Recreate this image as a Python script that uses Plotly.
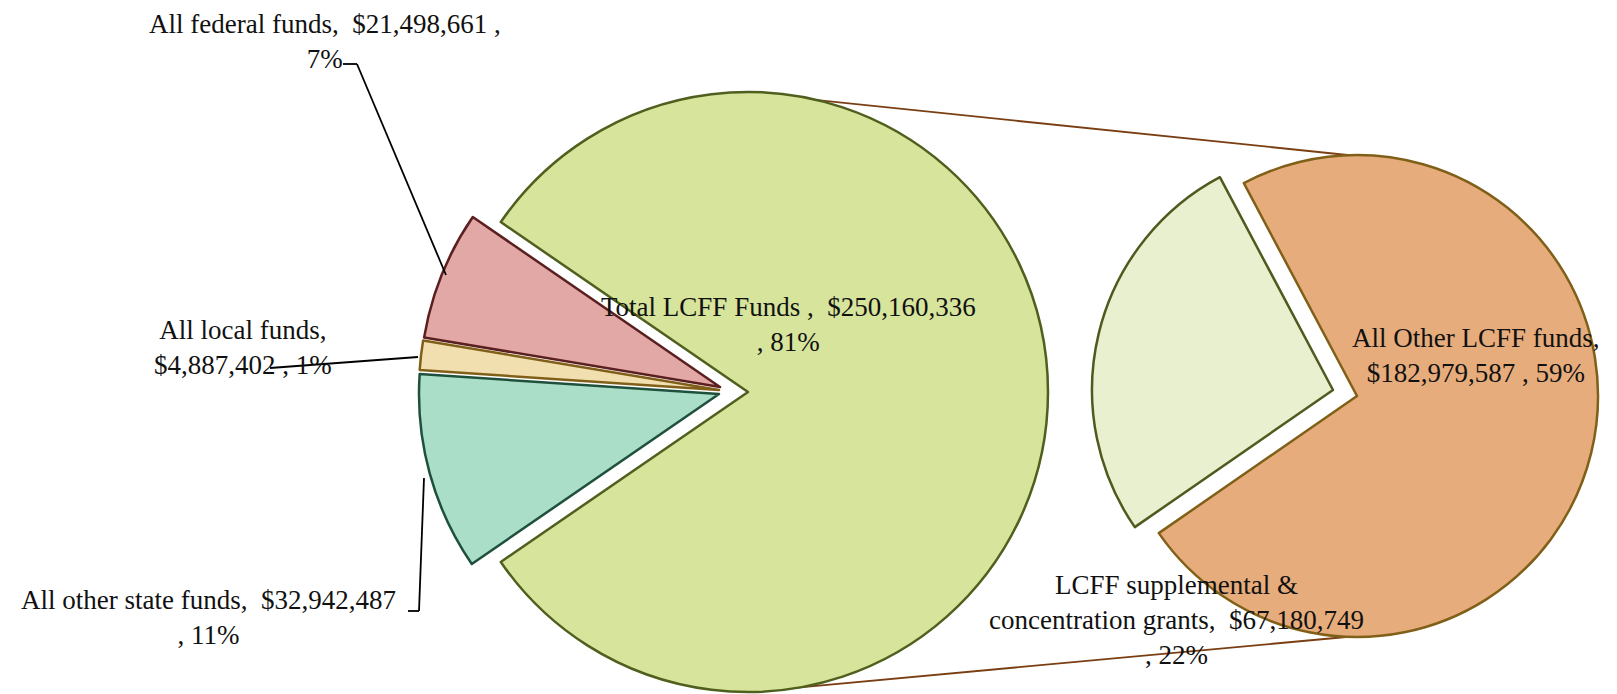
import plotly.graph_objects as go

# The page body has an 8px margin, so the figure is made 8px smaller and
# all reference-space positions are shifted by that margin.
REF_W, REF_H = 1617, 694
BODY = 8
W, H = REF_W - BODY, REF_H - BODY

# ---- data ----
main_labels = ["Total LCFF Funds", "All other state funds", "All local funds", "All federal funds"]
main_values = [250160336, 32942487, 4887402, 21498661]
sub_labels = ["All Other LCFF funds", "LCFF supplemental & concentration grants"]
sub_values = [182979587, 67180749]
main_pct = ["81%", "11%", "1%", "7%"]
sub_pct = ["59%", "22%"]

main_fill = ["#D7E49C", "#AADEC9", "#F2DFB0", "#E2A8A6"]
main_edge = ["#4F5F1E", "#1E503C", "#806018", "#5C1F1F"]
sub_fill = ["#E7AC7B", "#E9F0CF"]
sub_edge = ["#806018", "#4F5A1E"]

TRANSP = "rgba(0,0,0,0)"


def px(x, y):
    """reference pixel -> paper fraction"""
    return (x - BODY) / W, 1 - (y - BODY) / H


def dom(cx, cy, r):
    x0, y1 = px(cx - r, cy - r)
    x1, y0 = px(cx + r, cy + r)
    return dict(x=[max(0.0, x0), min(1.0, x1)], y=[max(0.0, y0), min(1.0, y1)])


def pie_part(labels, values, fills, edges, show_idx, cx, cy, r, rotation, lw=2.5):
    colors = [fills[i] if i == show_idx else TRANSP for i in range(len(values))]
    lcols = [edges[i] if i == show_idx else TRANSP for i in range(len(values))]
    widths = [lw if i == show_idx else 0 for i in range(len(values))]
    return go.Pie(labels=labels, values=values, sort=False, direction="clockwise",
                  rotation=rotation, domain=dom(cx, cy, r),
                  marker=dict(colors=colors, line=dict(color=lcols, width=widths)),
                  textinfo="none", hoverinfo="skip", showlegend=False)


fig = go.Figure()

# main pie
mcx, mcy, mr = 748, 392, 300
frac = main_values[0] / sum(main_values)
main_rot = 90 - frac * 180
offsets = {0: (0, 0), 1: (-29, 2), 2: (-29, -2), 3: (-28, -5)}
for i in range(len(main_values)):
    dx, dy = offsets[i]
    fig.add_trace(pie_part(main_labels, main_values, main_fill, main_edge, i,
                           mcx + dx, mcy + dy, mr, main_rot))

# secondary pie
scx, scy, sr = 1357, 396, 241
sub_rot = -28
sub_offsets = {0: (0, 0), 1: (-24, -6)}
for i in range(len(sub_values)):
    dx, dy = sub_offsets[i]
    fig.add_trace(pie_part(sub_labels, sub_values, sub_fill, sub_edge, i,
                           scx + dx, scy + dy, sr, sub_rot))

shapes = []
# connector lines between pies (drawn beneath the pies)
for (x0, y0, x1, y1) in [(748, 93, 1357, 156), (760, 691, 1357, 636)]:
    a, b = px(x0, y0)
    c, d = px(x1, y1)
    shapes.append(dict(type="line", xref="paper", yref="paper", x0=a, y0=b, x1=c, y1=d,
                       line=dict(color="#7A3E12", width=1.8), layer="below"))

# leader lines
leaders = [
    [(343, 64), (357, 64), (446, 275)],
    [(270, 368), (418, 357)],
    [(408, 611), (419, 611), (424, 478)],
]
for pts in leaders:
    for (p, q) in zip(pts[:-1], pts[1:]):
        a, b = px(*p)
        c, d = px(*q)
        shapes.append(dict(type="line", xref="paper", yref="paper", x0=a, y0=b, x1=c, y1=d,
                           line=dict(color="#000000", width=1.8), layer="above"))


def money(v):
    return "${:,}".format(v)


texts = [
    ("All federal funds,  " + money(main_values[3]) + " ,<br>" + main_pct[3], 325, 8, "top"),
    ("All local funds,<br>" + money(main_values[2]) + " , " + main_pct[2], 243, 347, "middle"),
    ("All other state funds,  " + money(main_values[1]) + "<br>, " + main_pct[1], 208, 617, "middle"),
    ("Total LCFF Funds ,  " + money(main_values[0]) + "<br>, " + main_pct[0], 788, 324, "middle"),
    ("All Other LCFF funds,<br>" + money(sub_values[0]) + " , " + sub_pct[0], 1476, 355, "middle"),
    ("LCFF supplemental &<br>concentration grants,  " + money(sub_values[1]) + "<br>, " + sub_pct[1], 1176, 620, "middle"),
]
annotations = []
for t, x, y, ya in texts:
    a, b = px(x, y)
    annotations.append(dict(text=t, x=a, y=b, xref="paper", yref="paper", showarrow=False,
                            xanchor="center", yanchor=ya, align="center", borderpad=0,
                            font=dict(family="Liberation Serif", size=27, color="#111111")))

fig.update_layout(width=W, height=H, margin=dict(l=0, r=0, t=0, b=0),
                  paper_bgcolor="white", plot_bgcolor="white",
                  shapes=shapes, annotations=annotations)

fig.write_html("out.html")
